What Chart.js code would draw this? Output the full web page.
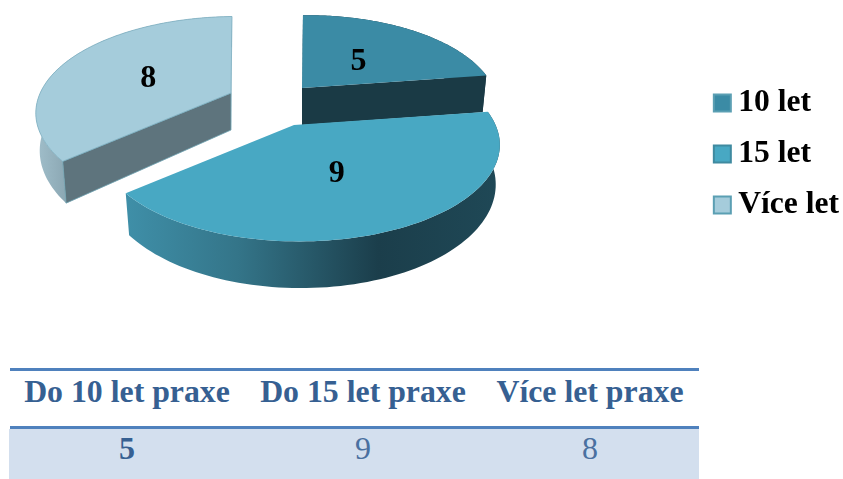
<!DOCTYPE html>
<html><head><meta charset="utf-8">
<style>
html,body{margin:0;padding:0;background:#fff;width:843px;height:479px;overflow:hidden;font-family:"Liberation Serif",serif}
canvas{position:absolute;left:0;top:0}
.rule{position:absolute;left:10px;width:689px;height:3px;background:#4f81bd}
.band{position:absolute;left:9px;top:429px;width:690px;height:50px;background:#d3dfee}
.cell{position:absolute;transform:translateX(-50%);white-space:nowrap;color:#366092;line-height:40px;height:40px}
.head{top:372px;font-weight:bold;font-size:31.8px}
.val{top:428px;font-size:32px;color:#4a70a0}
</style></head><body>
<canvas id="c" width="849" height="308"></canvas>
<div class="rule" style="top:368px"></div>
<div class="rule" style="top:426px"></div>
<div class="band"></div>
<div id="tbl"></div>
<script src="https://cdn.jsdelivr.net/npm/chart.js@4"></script>
<script>
const legendLabels = ["10 let", "15 let", "Více let"];
const values = [5, 9, 8];
const tableHeads = ["Do 10 let praxe", "Do 15 let praxe", "Více let praxe"];
const topColors = ["#3b8ba5", "#48a8c3", "#a5ccdb"];
const legendBorders = ["#5b9fb3", "#3f8aa0", "#5b9fb3"];

// One shared perspective for the whole pie; every slice's shape comes from the angles
// Chart.js computes for its arc. Each slice only has its own explosion origin and scale.
const sliceOrigin = [[302,88],[294,125],[231,93]];
const sliceScale = [0.97,1.02,1.02];
const labelRadius = [0.49,0.48,0.49];
const depth = 37;
const cutColors = ["#1a3a45", "#1c414e", "#5e747d"];
const drawOrder = [0, 2, 1];

function project(i,u,v,low){
  const w=1-0.0273*u-0.2066*v, s=sliceScale[i], o=sliceOrigin[i];
  const X=(192.2*u-1.207*v)/w*s, Y=(-0.09*u+90.5*v)/w*s;
  return low ? [o[0]+X*0.98,o[1]+Y+depth/w] : [o[0]+X,o[1]+Y];
}
function rim(i,a0,a1,low){
  const pts=[],n=90;
  for(let k=0;k<=n;k++){const t=a0+(a1-a0)*k/n;pts.push(project(i,Math.cos(t),Math.sin(t),low));}
  return pts;
}
function poly(ctx,pts,fill,stroke){
  ctx.beginPath();pts.forEach((p,i)=>i?ctx.lineTo(p[0],p[1]):ctx.moveTo(p[0],p[1]));ctx.closePath();
  ctx.fillStyle=fill;ctx.fill();
  if(stroke){ctx.strokeStyle=stroke;ctx.lineWidth=0.8;ctx.stroke();}
}
function rimFill(ctx,i){
  if(i===1){
    const g=ctx.createLinearGradient(126,0,497,0);
    g.addColorStop(0,"#3f8fa8");g.addColorStop(0.3,"#347589");g.addColorStop(0.68,"#1b3e4b");g.addColorStop(1,"#1f4856");
    return g;
  }
  if(i===2){
    const g=ctx.createLinearGradient(34,0,68,0);
    g.addColorStop(0,"#a2c0cc");g.addColorStop(1,"#8aa6b2");
    return g;
  }
  return "#1a3a45";
}
const pie3d = {
  id:"pie3d",
  beforeDatasetDraw(chart,args){
    const ctx=chart.ctx, arcs=chart.getDatasetMeta(args.index).data;
    ctx.save();
    for(const i of drawOrder){
      const arc=arcs[i], a0=arc.startAngle, a1=arc.endAngle;
      const tr=rim(i,a0,a1,false), br=rim(i,a0,a1,true);
      const c=project(i,0,0,false), cb=project(i,0,0,true);
      const ta=tr[0], tb=tr[tr.length-1], ba=br[0], bb=br[br.length-1];
      if(i===0) poly(ctx,[ta,c,cb,ba],"#24505f");
      if(i===2) poly(ctx,[tb,c,cb,bb],"#8fb6c6");
      poly(ctx,tr.concat(br.slice().reverse()),rimFill(ctx,i));
      if(i===0) poly(ctx,[c,tb,bb,cb],cutColors[0]);
      if(i===2) poly(ctx,[ta,c,cb,ba],cutColors[2],"#6fa3b3");
      poly(ctx,[c].concat(tr),arc.options.backgroundColor,i===2?"#7fb0c2":null);
    }
    ctx.fillStyle="#000";ctx.font='bold 32px "Liberation Serif"';
    ctx.textAlign="center";ctx.textBaseline="middle";
    chart.data.datasets[args.index].data.forEach((v,i)=>{
      const am=(arcs[i].startAngle+arcs[i].endAngle)/2, r=labelRadius[i];
      const p=project(i,Math.cos(am)*r,Math.sin(am)*r,false);
      ctx.fillText(String(v),p[0],p[1]+4);
    });
    ctx.restore();
    return false;
  }
};
new Chart(document.getElementById("c"),{
  type:"pie",
  data:{labels:legendLabels,datasets:[{data:values,backgroundColor:topColors,borderColor:legendBorders,borderWidth:2}]},
  options:{
    responsive:false,animation:false,
    plugins:{
      tooltip:{enabled:false},
      legend:{position:"right",labels:{
        usePointStyle:true,pointStyle:"rect",boxWidth:0.01,boxHeight:17,padding:19.4,
        color:"#000",font:{family:"Liberation Serif",size:31.6,weight:"bold"}
      }}
    }
  },
  plugins:[pie3d]
});
const heads=[127,363,590];
const tbl=document.getElementById("tbl");
tableHeads.forEach((t,i)=>{
  const h=document.createElement("div");h.className="cell head";h.style.left=heads[i]+"px";h.textContent=t;tbl.appendChild(h);
  const v=document.createElement("div");v.className="cell val";v.style.left=heads[i]+"px";v.textContent=values[i];
  if(i===0){v.style.fontWeight="bold";v.style.color="#366092";}
  tbl.appendChild(v);
});
</script>
</body></html>
